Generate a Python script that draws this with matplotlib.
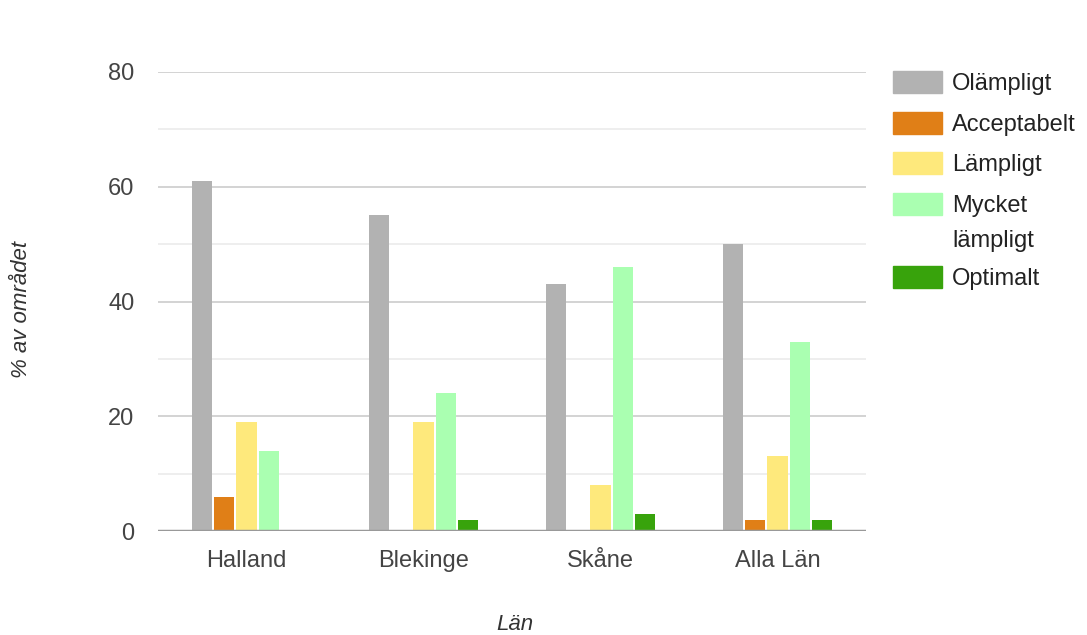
import numpy as np
import matplotlib.pyplot as plt
from matplotlib.patches import Rectangle

plt.rcParams['font.family'] = ['Liberation Sans', 'DejaVu Sans']

# Data
lan = ['Halland', 'Blekinge', 'Skåne', 'Alla Län']
serier = ['Olämpligt', 'Acceptabelt', 'Lämpligt', 'Mycket\nlämpligt', 'Optimalt']
olampligt = [61, 55, 43, 50]
acceptabelt = [6, 0, 0, 2]
lampligt = [19, 19, 8, 13]
mycket_lampligt = [14, 24, 46, 33]
optimalt = [0.1, 2, 3, 2]
farger = ['#b2b2b2', '#e07f17', '#fee97c', '#aaffb1', '#38a30c']

varden = [olampligt, acceptabelt, lampligt, mycket_lampligt, optimalt]

fig = plt.figure(figsize=(10.87, 6.35), dpi=100)
ax = fig.add_axes([158/1087, 1 - 531/635, (866-158)/1087, (531-72)/635])

x = np.arange(len(lan))
pitch = 0.127
bredd = 0.113
for i, (v, c) in enumerate(zip(varden, farger)):
    ax.bar(x + (i - 2) * pitch, v, width=bredd, color=c, zorder=3)

ax.set_xlim(-0.5, len(lan) - 0.5)
ax.set_ylim(0, 80)
ax.set_yticks([0, 20, 40, 60, 80])
ax.set_yticks([10, 30, 50, 70], minor=True)
ax.grid(axis='y', which='major', color='#cccccc', linewidth=1.2, zorder=0)
ax.grid(axis='y', which='minor', color='#ebebeb', linewidth=1.2, zorder=0)
ax.axhline(0, color='#999999', linewidth=2.5, zorder=4)
for s in ax.spines.values():
    s.set_visible(False)
ax.tick_params(axis='both', which='both', length=0, labelsize=17, labelcolor='#444444')
ax.tick_params(axis='y', pad=17)
ax.tick_params(axis='x', pad=14)
ax.set_xticks(x)
ax.set_xticklabels(lan)

fig.text(22/1087, 1 - 310/635, '% av området', rotation=90, style='italic',
         fontsize=16, color='#333333', ha='center', va='center')
fig.text(515/1087, 1 - 624/635, 'Län', style='italic',
         fontsize=16, color='#333333', ha='center', va='center')

# Legend (ritad för hand så att rutan ligger vid första raden)
rad_y = [82, 123, 163, 204, 277]
for namn, c, yy in zip(serier, farger, rad_y):
    fig.patches.append(Rectangle((893/1087, 1 - (yy + 11)/635), 49/1087, 22/635,
                                 transform=fig.transFigure, color=c, figure=fig))
    fig.text(952/1087, 1 - (yy - 9)/635, namn, fontsize=17, color='#222222',
             ha='left', va='top', linespacing=1.75)

fig.savefig('out.png', dpi=100, facecolor='white')
